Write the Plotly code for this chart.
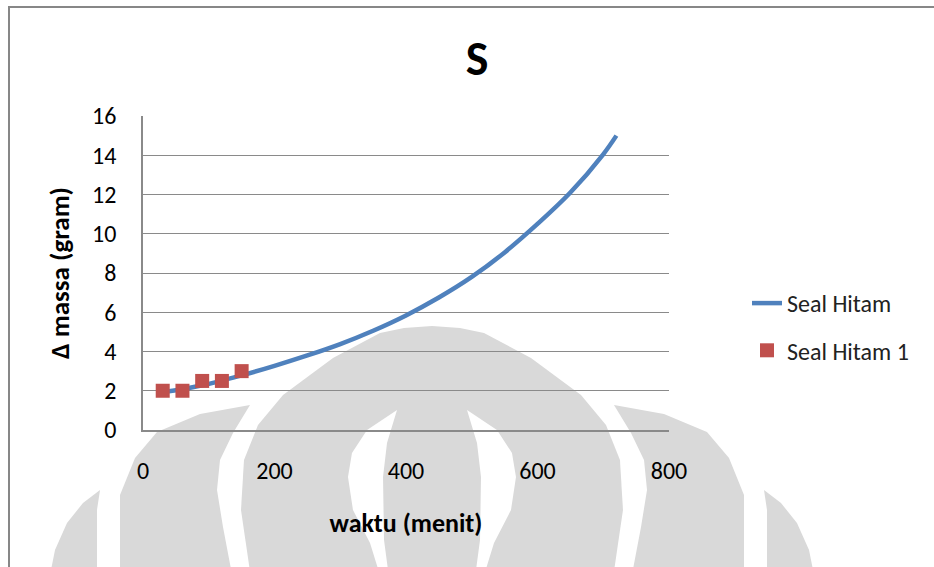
import plotly.graph_objects as go

# ---- data ----
waktu_fit = [30, 60, 90, 120, 150, 200, 250, 300, 350, 400, 450, 500, 550, 600, 650, 700, 720]
massa_fit = [1.93, 2.08, 2.28, 2.52, 2.78, 3.27, 3.8, 4.38, 5.06, 5.84, 6.75, 7.8, 9.05, 10.5, 12.1, 14.05, 15.0]

waktu_obs = [30, 60, 90, 120, 150]
massa_obs = [2, 2, 2.5, 2.5, 3]

x_ticks = [0, 200, 400, 600, 800]
y_ticks = [0, 2, 4, 6, 8, 10, 12, 14, 16]

FONT = "Carlito, Calibri, Lato, sans-serif"

# ---- layout geometry (pixels) ----
W, H = 934, 567
L, R, T, B = 143, 669, 116, 430


def px(x, y):
    return ((x - L) / (R - L), (B - y) / (B - T))


def path(points):
    s = ""
    for i, (x, y) in enumerate(points):
        xp, yp = px(x, y)
        s += ("M" if i == 0 else "L") + f"{xp:.4f},{yp:.4f} "
    return s + "Z"


def mirror(points, c=432):
    return [(2 * c - x, y) for x, y in points]


GREY = "#d9d9d9"
shapes = []

# watermark (background logo)
central = [(432, 326), (460, 328), (484, 333), (531, 358), (581, 395), (606, 425),
           (620, 460), (623, 510), (612, 585), (252, 585), (241, 510), (244, 460),
           (258, 425), (283, 395), (333, 358), (380, 333), (404, 328)]
shapes.append(dict(type="path", path=path(central), fillcolor=GREY, line_width=0, layer="below",
                   xref="paper", yref="paper"))
cres_l = [(397, 410), (367, 430), (352, 453), (348, 477), (353, 510), (370, 543), (383, 585),
          (390, 585), (384, 540), (383, 477), (387, 443)]
for pts in (cres_l, mirror(cres_l)):
    shapes.append(dict(type="path", path=path(pts), fillcolor="white", line_width=0, layer="below",
                       xref="paper", yref="paper"))
second_l = [(250, 405), (233, 433), (220, 460), (217, 490), (223, 527), (234, 585),
            (120, 585), (120, 495), (135, 458), (157, 432), (200, 414)]
far_l = [(100, 490), (83, 503), (67, 523), (55, 550), (48, 585), (97, 585), (97, 510)]
for pts in (second_l, mirror(second_l), far_l, mirror(far_l)):
    shapes.append(dict(type="path", path=path(pts), fillcolor=GREY, line_width=0, layer="below",
                       xref="paper", yref="paper"))

# outer chart frame
x0, y0 = px(9, 7)
x1, y1 = px(960, 600)
shapes.append(dict(type="rect", xref="paper", yref="paper", x0=x0, y0=y1, x1=x1, y1=y0,
                   line=dict(color="#878787", width=2), fillcolor="rgba(0,0,0,0)", layer="below"))

fig = go.Figure()
fig.add_trace(go.Scatter(
    x=waktu_fit, y=massa_fit, mode="lines", name="Seal Hitam", legendgroup="a",
    line=dict(color="#4F81BD", width=4.5, shape="spline"),
))
fig.add_trace(go.Scatter(
    x=waktu_obs, y=massa_obs, mode="markers", name="Seal Hitam 1", legendgroup="b",
    marker=dict(symbol="square", size=14, color="#C0504D"),
))

grid = "#8a8a8a"
fig.update_layout(
    width=W, height=H,
    margin=dict(l=L, r=W - R, t=T, b=H - B, autoexpand=False),
    paper_bgcolor="white", plot_bgcolor="rgba(0,0,0,0)",
    font=dict(family=FONT, size=24, color="black"),
    title=dict(text="<b>S</b>", x=(477) / W, xanchor="center", y=1 - 58 / H, yanchor="middle",
               font=dict(family=FONT, size=48, color="black")),
    showlegend=True,
    legend=dict(x=px(747, 0)[0], xanchor="left", y=px(0, 281)[1], yanchor="top",
                font=dict(family=FONT, size=24, color="#222222"),
                tracegroupgap=13, bgcolor="rgba(0,0,0,0)"),
    shapes=shapes,
    xaxis=dict(range=[0, 800], tickvals=x_ticks, showgrid=False, zeroline=False,
               showline=True, linecolor=grid, linewidth=1.5, ticks="",
               ticklabelstandoff=18, tickfont=dict(family=FONT, size=24, color="black"),
               title=dict(text="<b>waktu (menit)</b>", standoff=30,
                          font=dict(family=FONT, size=26, color="black"))),
    yaxis=dict(range=[0, 16], tickvals=y_ticks, showgrid=True, gridcolor=grid, gridwidth=1.4,
               zeroline=False, showline=True, linecolor=grid, linewidth=1.5, ticks="",
               ticklabelstandoff=20, tickfont=dict(family=FONT, size=24, color="black"),
               title=dict(text="<b>Δ massa (gram)</b>", standoff=15,
                          font=dict(family=FONT, size=27, color="black"))),
)

fig.write_html("out.html", config={"displayModeBar": False},
               post_script="document.body.style.margin='0';")
